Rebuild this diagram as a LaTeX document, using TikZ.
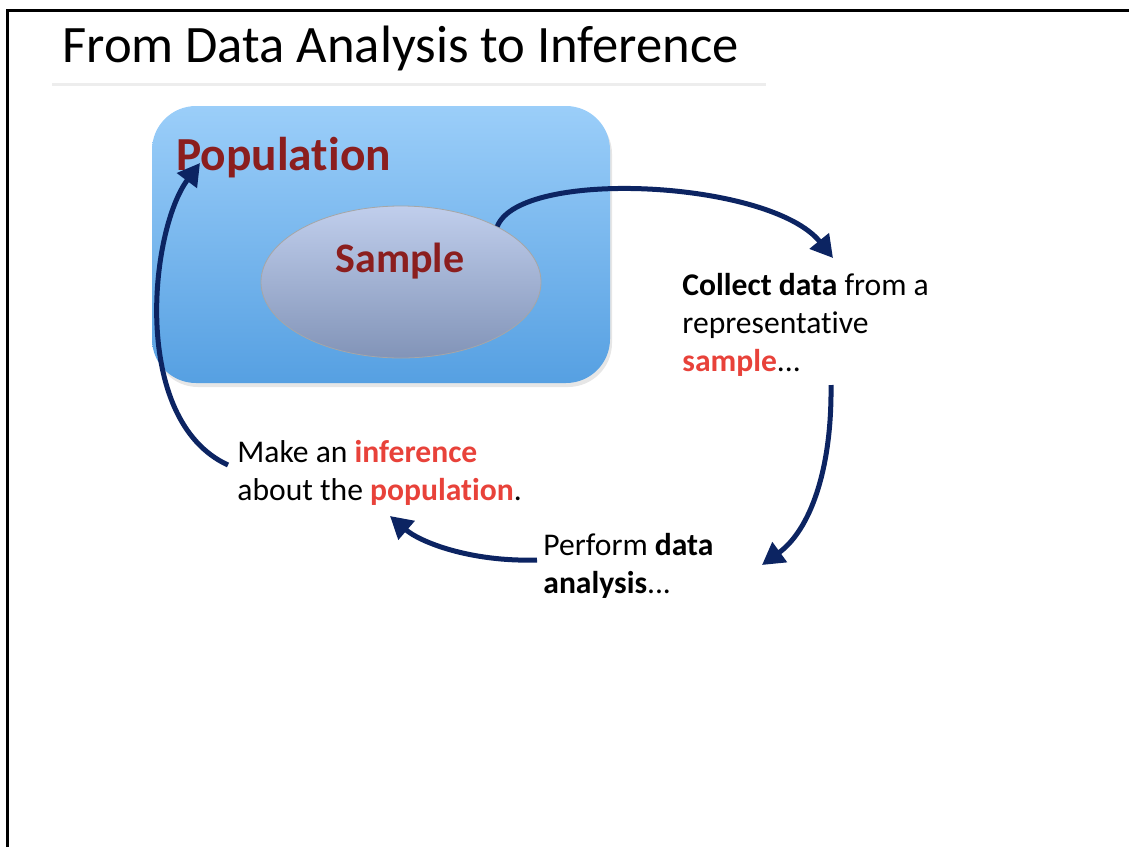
\documentclass[tikz,border=0pt]{standalone}
\usepackage{fontspec}
\setmainfont{Carlito}[Ligatures=NoCommon]
\usetikzlibrary{arrows.meta,shapes.geometric,shadows}
\definecolor{navy}{RGB}{12,36,98}
\definecolor{hot}{RGB}{232,66,58}
\definecolor{wine}{RGB}{139,30,30}
\definecolor{skytop}{RGB}{155,206,249}
\definecolor{skybot}{RGB}{86,160,226}
\definecolor{ovtop}{RGB}{192,206,236}
\definecolor{ovbot}{RGB}{130,148,184}
\tikzset{flow/.style={draw=navy, line width=2.5pt, -{Triangle[length=11pt,width=12pt]}}}
\tikzset{txt/.style={inner sep=0pt, anchor=base west, align=left, font=\fontsize{15.8}{19}\selectfont}}
\newcommand{\hl}[1]{\textcolor{hot}{\textbf{#1}}}

\begin{document}
\begin{tikzpicture}[x=0.5pt, y=-0.5pt]
    \useasboundingbox (0,0) rectangle (1129,847);
    % frame and title
    \draw[line width=1.5pt] (7,847) -- (7,10) -- (1129,10);
    \node[txt, font=\fontsize{26.3}{30}\selectfont] (title) at (62,62) {From Data Analysis to Inference};
    \draw[line width=1.5pt, black!7] (52,84) -- (766,84);
    % population and sample
    \node[rounded corners=22pt, minimum width=229pt, minimum height=138.5pt, top color=skytop, bottom color=skybot,
      drop shadow={opacity=0.2, shadow xshift=1pt, shadow yshift=-2pt}] (pop) at (381,244.5) {};
    \node[ellipse, minimum width=140pt, minimum height=76pt, draw=black!35, top color=ovtop, bottom color=ovbot] (smp) at (401,282) {};
    \node[txt, font=\fontsize{23.7}{26}\selectfont\bfseries, text=wine] (poplbl) at (176,170) {Population};
    \node[inner sep=0pt, anchor=base, font=\fontsize{21}{25}\selectfont\bfseries, text=wine] (smplbl) at (400,272) {Sample};
    % steps (base = last line)
    \node[txt] (collect) at (682,371) {\textbf{Collect data} from a\\representative\\\hl{sample}...};
    \node[txt] (perform) at (543,593) {Perform \textbf{data}\\\textbf{analysis}...};
    \node[txt] (infer) at (237,500) {Make an \hl{inference}\\about the \hl{population}.};
    % arrow ends
    \coordinate (c1) at (833,258);
    \coordinate (c2) at (831,385);
    \coordinate (c3) at (762,565);
    \coordinate (c4) at (537,560);
    \coordinate (c5) at (390,516);
    \coordinate (c6) at (228,465);
    \coordinate (c7) at (200,163);
    \draw[flow] (smp.30) .. controls (520,168) and (770,180) .. (c1);
    \draw[flow] (c2) .. controls (832,470) and (810,530) .. (c3);
    \draw[flow] (c4) .. controls (470,562) and (420,542) .. (c5);
    \draw[flow] (c6) .. controls (130,420) and (150,230) .. (c7);
\end{tikzpicture}
\end{document}
